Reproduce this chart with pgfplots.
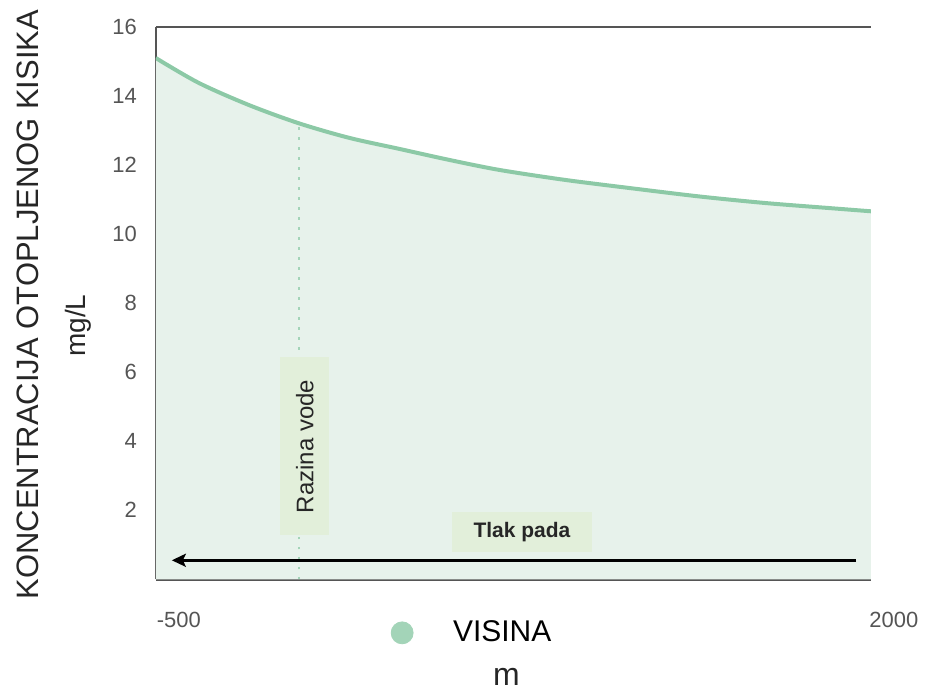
\documentclass[border=0pt]{standalone}
\usepackage{pgfplots}
\pgfplotsset{compat=1.18}
\usepackage{pgfplotstable}
\usepackage{fontspec}
\setmainfont{Liberation Sans}
\usetikzlibrary{arrows.meta}

\definecolor{curveline}{HTML}{8CC9A6}
\definecolor{areafill}{HTML}{E7F2EB}
\definecolor{boxfill}{HTML}{E2EFDA}
\definecolor{dotmint}{HTML}{A3D4B8}
\definecolor{axgray}{HTML}{555555}

% otopljeni kisik (mg/L) prema visini (m)
\pgfplotstableread{
x y
-500 15.10
-350 14.38
-175 13.74
0 13.21
175 12.79
350 12.47
525 12.15
700 11.86
930 11.57
1160 11.33
1400 11.09
1630 10.90
1860 10.75
2000 10.66
}\oxygen

\begin{document}
\begin{tikzpicture}
\begin{axis}[
  scale only axis, width=358pt, height=276.5pt,
  xmin=-500, xmax=2000, ymin=0, ymax=16,
  axis x line*=box, axis y line*=left,
  axis line style={axgray, line width=1.3pt},
  xtick={-500,2000}, ytick={2,4,...,16},
  major tick length=0pt,
  /pgf/number format/assume math mode=true,
  /pgf/number format/1000 sep={},
  ticklabel style={font=\fontsize{11}{13}\selectfont, text=axgray},
  xticklabel style={anchor=north, xshift=11.5pt, yshift=-13pt},
  yticklabel style={xshift=-6pt},
  legend style={draw=none, fill=none, inner sep=0pt, at={(0.328,-0.097)}, anchor=west,
    font=\fontsize{15}{18}\selectfont},
]
\addplot[draw=none, fill=areafill, smooth, forget plot] table {\oxygen} \closedcycle;
\addplot[dotmint, line width=1.2pt, dash pattern=on 1.2pt off 3.8pt, forget plot]
  coordinates {(0,0) (0,13.2)};
\addplot[curveline, line width=2pt, smooth, forget plot] table {\oxygen};

\node[fill=boxfill, rotate=90, minimum width=89pt, minimum height=24.5pt, inner sep=0pt,
  font=\fontsize{12}{14}\selectfont, text=black!85] at (axis cs:21,3.85) {Razina vode};
\node[fill=boxfill, minimum width=70pt, minimum height=20pt, inner sep=0pt,
  font=\fontsize{10.5}{12}\selectfont\bfseries, text=black!85] at (axis cs:780,1.36) {Tlak pada};
\draw[-{Stealth[length=7pt, width=6.5pt, inset=1.5pt]}, line width=1.5pt]
  (axis cs:1948,0.55) -- (axis cs:-444,0.55);

\addlegendimage{legend image code/.code={
  \fill[dotmint] (0pt,0pt) circle (5.5pt);
  \path[draw=none] (-5.5pt,0pt) -- (23.5pt,0pt);}}
\addlegendentry{VISINA}
\end{axis}

\node[rotate=90, font=\fontsize{15.5}{18}\selectfont, text=black!85] at (-64pt,137.5pt)
  {KONCENTRACIJA OTOPLJENOG KISIKA};
\node[rotate=90, font=\fontsize{14}{16}\selectfont, text=black!85] at (-39pt,127pt) {mg/L};
\node[font=\fontsize{16}{18}\selectfont, text=black!85] at (175.5pt,-49pt) {m};

\path (-78pt,-54.5pt) rectangle (384.5pt,290pt);
\end{tikzpicture}
\end{document}
